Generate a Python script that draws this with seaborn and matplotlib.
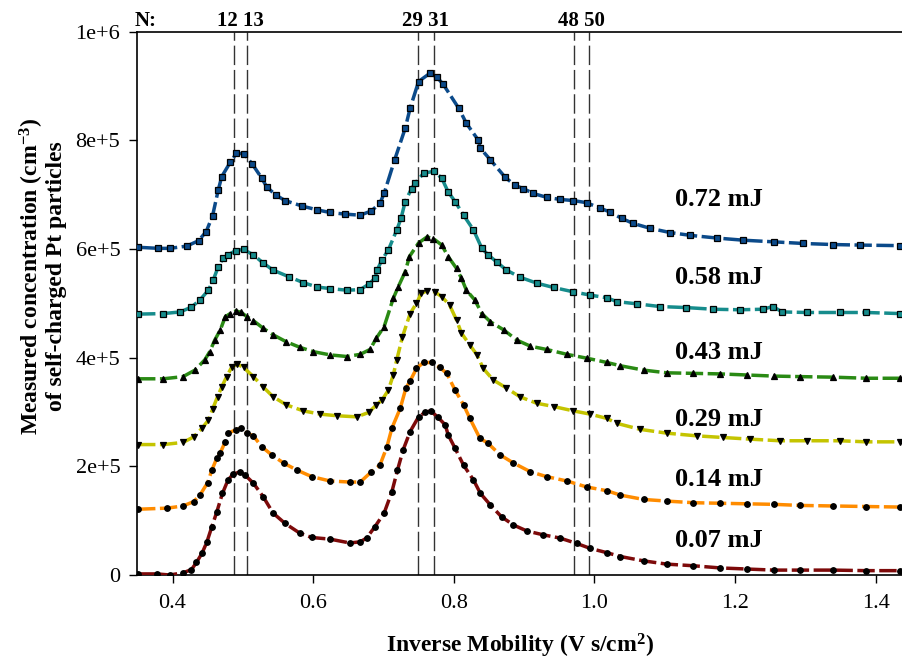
import numpy as np
import pandas as pd
import matplotlib
matplotlib.use("Agg")
import matplotlib.pyplot as plt
import matplotlib.transforms as mtransforms
import seaborn as sns

# ---------------- data ----------------
energies = ["0.07 mJ", "0.14 mJ", "0.29 mJ", "0.43 mJ", "0.58 mJ", "0.72 mJ"]

x_007 = [0.351, 0.378, 0.396, 0.415, 0.427, 0.434, 0.442, 0.449, 0.456, 0.463, 0.471, 0.479, 0.486, 0.496,
         0.503, 0.515, 0.529, 0.543, 0.560, 0.581, 0.598, 0.624, 0.652, 0.667, 0.676, 0.688, 0.701, 0.712,
         0.720, 0.728, 0.738, 0.750, 0.759, 0.767, 0.777, 0.788, 0.792, 0.802, 0.814, 0.828, 0.838, 0.852,
         0.868, 0.885, 0.904, 0.927, 0.951, 0.975, 0.994, 1.018, 1.037, 1.070, 1.103, 1.141, 1.179, 1.217,
         1.255, 1.293, 1.340, 1.387, 1.435]
y_007 = [0.002, 0.002, 0.000, 0.004, 0.010, 0.023, 0.040, 0.061, 0.089, 0.116, 0.150, 0.175, 0.185, 0.190,
         0.184, 0.169, 0.144, 0.114, 0.095, 0.077, 0.069, 0.066, 0.059, 0.061, 0.068, 0.089, 0.114, 0.153,
         0.193, 0.230, 0.264, 0.291, 0.299, 0.302, 0.291, 0.276, 0.258, 0.233, 0.202, 0.175, 0.150, 0.129,
         0.107, 0.092, 0.081, 0.074, 0.068, 0.058, 0.049, 0.041, 0.034, 0.026, 0.020, 0.017, 0.013, 0.011,
         0.009, 0.009, 0.009, 0.008, 0.008]

x_014 = [0.351, 0.392, 0.415, 0.430, 0.439, 0.450, 0.456, 0.463, 0.468, 0.475, 0.479, 0.490, 0.497, 0.506,
         0.515, 0.527, 0.541, 0.558, 0.577, 0.598, 0.624, 0.652, 0.667, 0.683, 0.695, 0.705, 0.712, 0.724,
         0.732, 0.738, 0.747, 0.757, 0.769, 0.780, 0.790, 0.802, 0.814, 0.823, 0.837, 0.849, 0.866, 0.885,
         0.909, 0.932, 0.961, 0.989, 1.018, 1.037, 1.070, 1.103, 1.141, 1.179, 1.217, 1.255, 1.293, 1.340,
         1.387, 1.435]
y_014 = [0.121, 0.123, 0.127, 0.135, 0.147, 0.170, 0.193, 0.215, 0.225, 0.245, 0.261, 0.267, 0.270, 0.261,
         0.256, 0.236, 0.221, 0.206, 0.193, 0.181, 0.173, 0.171, 0.171, 0.190, 0.202, 0.236, 0.270, 0.307,
         0.344, 0.357, 0.380, 0.391, 0.391, 0.382, 0.371, 0.340, 0.313, 0.288, 0.252, 0.242, 0.221, 0.206,
         0.190, 0.181, 0.173, 0.162, 0.155, 0.147, 0.139, 0.136, 0.133, 0.132, 0.131, 0.130, 0.128, 0.127,
         0.126, 0.125]

x_029 = [0.351, 0.387, 0.415, 0.430, 0.442, 0.451, 0.457, 0.464, 0.470, 0.477, 0.484, 0.492, 0.501, 0.515,
         0.529, 0.543, 0.562, 0.586, 0.610, 0.634, 0.662, 0.679, 0.690, 0.698, 0.707, 0.714, 0.719, 0.727,
         0.738, 0.747, 0.754, 0.762, 0.773, 0.783, 0.794, 0.804, 0.811, 0.823, 0.833, 0.842, 0.856, 0.875,
         0.894, 0.918, 0.942, 0.970, 0.994, 1.018, 1.032, 1.065, 1.103, 1.146, 1.183, 1.221, 1.264, 1.302,
         1.349, 1.387, 1.435]
y_029 = [0.240, 0.240, 0.244, 0.254, 0.270, 0.285, 0.305, 0.328, 0.346, 0.365, 0.382, 0.388, 0.382, 0.365,
         0.346, 0.328, 0.313, 0.302, 0.296, 0.293, 0.291, 0.299, 0.313, 0.322, 0.340, 0.368, 0.396, 0.438,
         0.481, 0.500, 0.518, 0.523, 0.521, 0.512, 0.497, 0.469, 0.445, 0.423, 0.405, 0.380, 0.359, 0.344,
         0.328, 0.316, 0.310, 0.302, 0.296, 0.288, 0.279, 0.268, 0.261, 0.256, 0.253, 0.250, 0.247, 0.247,
         0.247, 0.245, 0.245]

x_043 = [0.351, 0.387, 0.415, 0.432, 0.446, 0.453, 0.460, 0.468, 0.475, 0.482, 0.490, 0.498, 0.506, 0.515,
         0.529, 0.543, 0.562, 0.581, 0.600, 0.624, 0.648, 0.667, 0.681, 0.690, 0.701, 0.714, 0.721, 0.731,
         0.737, 0.750, 0.762, 0.771, 0.783, 0.792, 0.804, 0.811, 0.818, 0.830, 0.840, 0.852, 0.871, 0.890,
         0.909, 0.932, 0.961, 0.989, 1.018, 1.037, 1.070, 1.103, 1.141, 1.179, 1.217, 1.255, 1.293, 1.340,
         1.387, 1.435]
y_043 = [0.361, 0.361, 0.365, 0.377, 0.396, 0.411, 0.432, 0.451, 0.475, 0.481, 0.486, 0.483, 0.475, 0.468,
         0.454, 0.442, 0.429, 0.419, 0.411, 0.405, 0.402, 0.406, 0.415, 0.436, 0.457, 0.509, 0.530, 0.558,
         0.586, 0.611, 0.622, 0.619, 0.607, 0.586, 0.564, 0.546, 0.524, 0.506, 0.481, 0.466, 0.451, 0.432,
         0.421, 0.415, 0.406, 0.399, 0.391, 0.385, 0.377, 0.372, 0.371, 0.370, 0.368, 0.366, 0.365, 0.364,
         0.362, 0.362]

x_058 = [0.351, 0.387, 0.411, 0.427, 0.439, 0.451, 0.458, 0.465, 0.472, 0.479, 0.490, 0.501, 0.515, 0.529,
         0.543, 0.565, 0.586, 0.605, 0.624, 0.648, 0.667, 0.679, 0.688, 0.691, 0.698, 0.707, 0.719, 0.725,
         0.731, 0.740, 0.745, 0.757, 0.772, 0.783, 0.792, 0.802, 0.814, 0.828, 0.840, 0.849, 0.861, 0.875,
         0.894, 0.918, 0.942, 0.970, 0.994, 1.018, 1.032, 1.060, 1.093, 1.131, 1.169, 1.207, 1.240, 1.254,
         1.267, 1.302, 1.349, 1.387, 1.435]
y_058 = [0.480, 0.481, 0.484, 0.493, 0.506, 0.524, 0.543, 0.567, 0.583, 0.589, 0.597, 0.599, 0.589, 0.574,
         0.561, 0.549, 0.538, 0.530, 0.527, 0.524, 0.525, 0.535, 0.546, 0.561, 0.580, 0.598, 0.635, 0.656,
         0.687, 0.711, 0.721, 0.739, 0.743, 0.730, 0.705, 0.687, 0.662, 0.635, 0.601, 0.589, 0.576, 0.561,
         0.548, 0.537, 0.529, 0.521, 0.515, 0.510, 0.503, 0.499, 0.494, 0.492, 0.489, 0.488, 0.489, 0.494,
         0.484, 0.483, 0.483, 0.483, 0.481]

x_072 = [0.351, 0.380, 0.396, 0.420, 0.437, 0.448, 0.457, 0.465, 0.470, 0.482, 0.491, 0.501, 0.513, 0.527,
         0.534, 0.547, 0.560, 0.584, 0.605, 0.624, 0.645, 0.667, 0.683, 0.695, 0.701, 0.716, 0.731, 0.738,
         0.750, 0.766, 0.776, 0.785, 0.807, 0.818, 0.835, 0.838, 0.852, 0.873, 0.887, 0.899, 0.913, 0.932,
         0.951, 0.970, 0.989, 1.008, 1.022, 1.039, 1.055, 1.079, 1.108, 1.136, 1.174, 1.212, 1.255, 1.297,
         1.340, 1.378, 1.435]
y_072 = [0.603, 0.601, 0.601, 0.605, 0.615, 0.632, 0.661, 0.708, 0.733, 0.759, 0.776, 0.775, 0.757, 0.730,
         0.714, 0.699, 0.689, 0.679, 0.672, 0.667, 0.664, 0.662, 0.670, 0.684, 0.702, 0.764, 0.822, 0.859,
         0.908, 0.923, 0.916, 0.903, 0.859, 0.831, 0.800, 0.785, 0.764, 0.732, 0.717, 0.711, 0.702, 0.695,
         0.691, 0.689, 0.685, 0.675, 0.668, 0.656, 0.647, 0.638, 0.630, 0.625, 0.620, 0.616, 0.613, 0.610,
         0.608, 0.607, 0.606]

# cluster sizes N and their inverse-mobility positions
n_labels = ["12 13", "29 31", "48 50"]
n_line_x = [0.4875, 0.5055, 0.749, 0.772, 0.971, 0.992]

xticks = [0.4, 0.6, 0.8, 1.0, 1.2, 1.4]
yticks = [0, 2e5, 4e5, 6e5, 8e5, 1e6]
yticklabels = ["0", "2e+5", "4e+5", "6e+5", "8e+5", "1e+6"]

series_x = [x_007, x_014, x_029, x_043, x_058, x_072]
series_y = [y_007, y_014, y_029, y_043, y_058, y_072]

frames = []
for name, xs, ys in zip(energies, series_x, series_y):
    frames.append(pd.DataFrame({"mobility": xs, "conc": np.array(ys) * 1e6, "energy": name}))
df = pd.concat(frames, ignore_index=True)

# ---------------- style ----------------
sns.set_style("ticks")
plt.rcParams["font.family"] = ["Liberation Serif", "DejaVu Serif"]
plt.rcParams["mathtext.fontset"] = "custom"
plt.rcParams["mathtext.rm"] = "Liberation Serif"
plt.rcParams["mathtext.bf"] = "Liberation Serif:bold"
plt.rcParams["mathtext.default"] = "bf"
plt.rcParams["text.color"] = "black"
plt.rcParams["axes.labelcolor"] = "black"
plt.rcParams["xtick.color"] = "black"
plt.rcParams["ytick.color"] = "black"

colors = ["#7d0a0a", "#ff8c00", "#c4c400", "#2a8a14", "#168c8c", "#0b4a8a"]
markers = ["o", "o", "v", "^", "s", "s"]
mfc = ["black", "black", "black", "black", "#168c8c", "#0b4a8a"]
label_x = 1.177
label_y = [0.064e6, 0.175e6, 0.287e6, 0.409e6, 0.547e6, 0.690e6]

fig = plt.figure(figsize=(9.03, 6.61), dpi=100)
ax = fig.add_axes([137 / 903, 86 / 661, 766 / 903, 543.5 / 661])

for xv in n_line_x:
    ax.axvline(xv, color="#333333", lw=1.0, linestyle=(0, (14, 3.5)), zorder=1)

for i, name in enumerate(energies):
    sub = df[df["energy"] == name]
    sns.lineplot(data=sub, x="mobility", y="conc", ax=ax, color=colors[i],
                 estimator=None, sort=False, lw=2.5,
                 linestyle=(0, (5, 1.3)), marker=markers[i], markersize=4.0,
                 markerfacecolor=mfc[i], markeredgecolor="black", markeredgewidth=0.9,
                 zorder=3, legend=False)
    ax.text(label_x, label_y[i], name, fontsize=19, fontweight="bold", ha="center", va="center",
            color="black")

ax.set_xlim(0.3495, 1.439)
ax.set_ylim(0, 1e6)
ax.set_xticks(xticks)
ax.set_xticklabels([f"{t:.1f}" for t in xticks])
ax.set_yticks(yticks)
ax.set_yticklabels(yticklabels)
ax.tick_params(axis="both", direction="out", length=6, width=1, labelsize=16,
               colors="black", labelcolor="black")
ax.tick_params(axis="x", pad=8)
ax.tick_params(axis="y", pad=6)
for s in ["left", "bottom", "top"]:
    ax.spines[s].set_linewidth(1.2)
    ax.spines[s].set_color("black")
ax.spines["right"].set_visible(False)

ax.set_xlabel("Inverse Mobility (V s/cm$^2$)", fontsize=17, fontweight="bold", labelpad=13,
              color="black")
ax.set_ylabel("Measured concentration (cm$^{-3}$)\nof self-charged Pt particles",
              fontsize=17, fontweight="bold", linespacing=1.0, color="black")
ax.yaxis.set_label_coords(-0.092, 0.55)

trans = mtransforms.blended_transform_factory(ax.transData, ax.transAxes)
ax.text(0.362, 1.02, "N:", transform=trans, fontsize=15, fontweight="bold", ha="center", va="center",
        color="black")
for k, lab in enumerate(n_labels):
    cx = (n_line_x[2 * k] + n_line_x[2 * k + 1]) / 2
    ax.text(cx, 1.02, lab, transform=trans, fontsize=15, fontweight="bold", ha="center", va="center",
            color="black")

fig.savefig("out.png", dpi=100)
